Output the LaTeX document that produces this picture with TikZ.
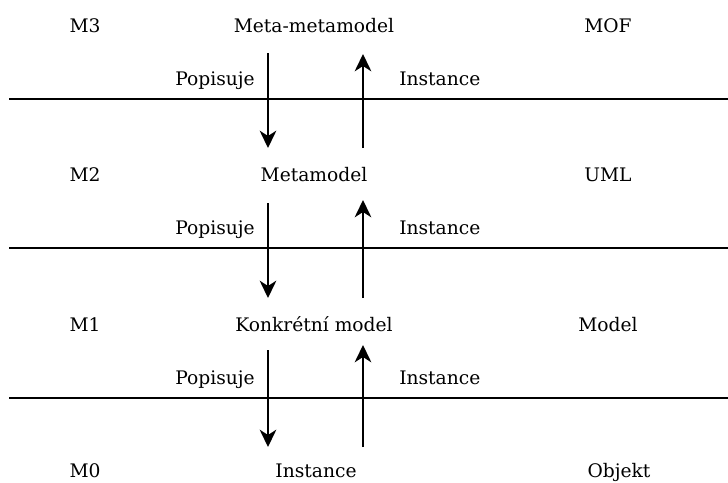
\documentclass[tikz,border=0pt]{standalone}
\usepackage{fontspec}
\setmainfont{DejaVu Serif}
\usetikzlibrary{arrows.meta}
\begin{document}
\begin{tikzpicture}[x=0.75pt,y=-0.75pt,
  lbl/.style={inner sep=0pt,font=\fontsize{14}{16}\selectfont,anchor=base},
  sep/.style={line width=1.35pt},
  arr/.style={line width=1.35pt,-{Stealth[length=13pt,width=12.5pt,inset=4pt]}}]
\useasboundingbox (0,0) rectangle (728,482);
% rows
\node[lbl] (m3) at (85,32) {M3};
\node[lbl] (t3) at (314,32) {Meta-metamodel};
\node[lbl] (r3) at (608,32) {MOF};
\node[lbl] (m2) at (85,181) {M2};
\node[lbl] (t2) at (314,181) {Metamodel};
\node[lbl] (r2) at (608,181) {UML};
\node[lbl] (m1) at (85,331) {M1};
\node[lbl] (t1) at (314,331) {Konkrétní model};
\node[lbl] (r1) at (608,331) {Model};
\node[lbl] (m0) at (85,477) {M0};
\node[lbl] (t0) at (316,477) {Instance};
\node[lbl] (r0) at (619,477) {Objekt};
% separator lines
\coordinate (l1a) at (9,99); \coordinate (l1b) at (728,99);
\coordinate (l2a) at (9,248); \coordinate (l2b) at (728,248);
\coordinate (l3a) at (9,398); \coordinate (l3b) at (728,398);
\draw[sep] (l1a) -- (l1b);
\draw[sep] (l2a) -- (l2b);
\draw[sep] (l3a) -- (l3b);
% arrows
\coordinate (d1s) at (268,53); \coordinate (d1e) at (268,148);
\coordinate (u1s) at (363,148); \coordinate (u1e) at (363,54);
\coordinate (d2s) at (268,203); \coordinate (d2e) at (268,298);
\coordinate (u2s) at (363,298); \coordinate (u2e) at (363,200);
\coordinate (d3s) at (268,350); \coordinate (d3e) at (268,447);
\coordinate (u3s) at (363,447); \coordinate (u3e) at (363,345);
\draw[arr] (d1s) -- (d1e);
\draw[arr] (u1s) -- (u1e);
\draw[arr] (d2s) -- (d2e);
\draw[arr] (u2s) -- (u2e);
\draw[arr] (d3s) -- (d3e);
\draw[arr] (u3s) -- (u3e);
% labels
\node[lbl,anchor=base east] (p1) at (255,85) {Popisuje};
\node[lbl,anchor=base west] (i1) at (399,85) {Instance};
\node[lbl,anchor=base east] (p2) at (255,234) {Popisuje};
\node[lbl,anchor=base west] (i2) at (399,234) {Instance};
\node[lbl,anchor=base east] (p3) at (255,384) {Popisuje};
\node[lbl,anchor=base west] (i3) at (399,384) {Instance};
\end{tikzpicture}
\end{document}
